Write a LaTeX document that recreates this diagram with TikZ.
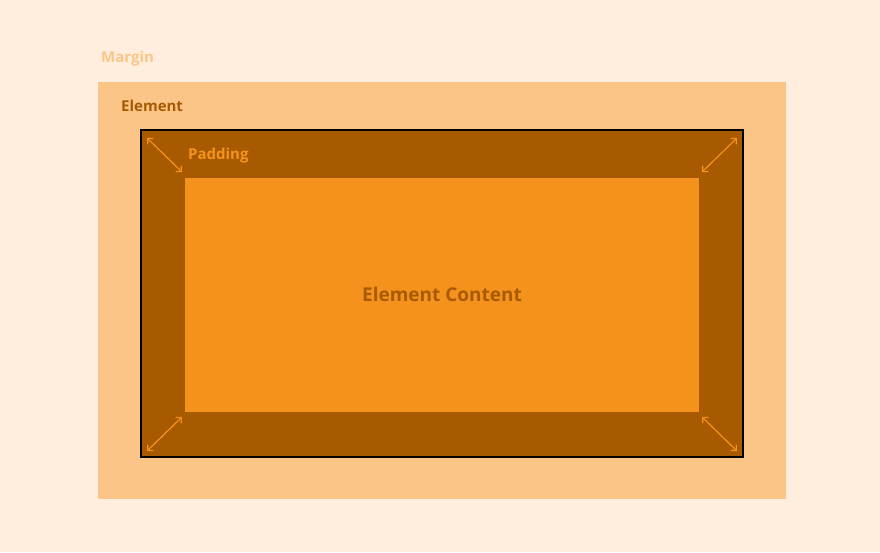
\documentclass[tikz,border=0pt]{standalone}
\usepackage{fontspec}
\setmainfont{Open Sans}
\usetikzlibrary{arrows.meta}
\definecolor{bg}{HTML}{FFEEDD}
\definecolor{marg}{HTML}{FBC587}
\definecolor{brown}{HTML}{A85A00}
\definecolor{orng}{HTML}{F5921E}
\begin{document}
\begin{tikzpicture}[x=1pt,y=-1pt,
  lbl/.style={font=\bfseries\fontsize{15}{18}\selectfont,anchor=west,inner sep=0},
  dbl/.style={draw=orng,line width=1.2pt,{Straight Barb[length=4pt]}-{Straight Barb[length=4pt]}}]
\fill[bg] (0,0) rectangle (880,552);
\useasboundingbox (0,0) rectangle (880,552);
\fill[marg] (98,82) rectangle (786,499);
\draw[black,line width=2.5pt,fill=brown] (141,130) rectangle (743,457);
\fill[orng] (185,178) rectangle (699,412);
\node[lbl,text=marg] (m) at (101,59) {Margin};
\node[lbl,text=brown] (e) at (121,106) {Element};
\node[lbl,text=orng] (p) at (188,156) {Padding};
\node[font=\bfseries\fontsize{19}{22}\selectfont,text=brown] (c) at (442,294) {Element Content};
\coordinate (a1) at (147,138); \coordinate (b1) at (182,172);
\coordinate (a2) at (737,138); \coordinate (b2) at (702,172);
\coordinate (a3) at (147,451); \coordinate (b3) at (182,417);
\coordinate (a4) at (737,451); \coordinate (b4) at (702,417);
\draw[dbl] (a1) -- (b1); \draw[dbl] (a2) -- (b2);
\draw[dbl] (a3) -- (b3); \draw[dbl] (a4) -- (b4);
\end{tikzpicture}
\end{document}
